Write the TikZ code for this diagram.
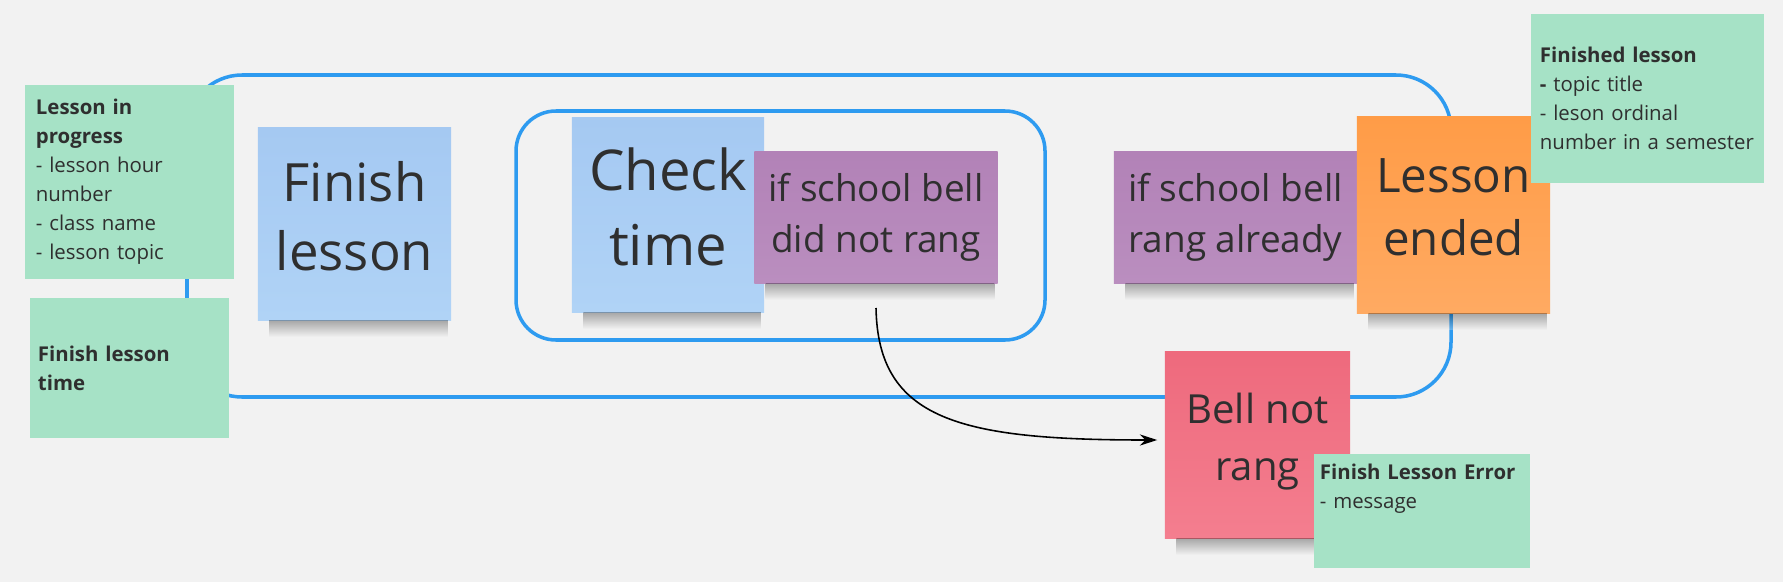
\documentclass[tikz,border=0pt]{standalone}
\usepackage{fontspec}
\setmainfont{Open Sans}
\usetikzlibrary{calc,arrows.meta}
\definecolor{board}{HTML}{F2F2F2}
\definecolor{frame}{HTML}{2E9BF0}
\definecolor{ink}{HTML}{2F2F2F}
\definecolor{card}{HTML}{A6E2C6}
\definecolor{bluetop}{HTML}{A5C9F2}
\definecolor{bluebot}{HTML}{B0D3F6}
\definecolor{purpletop}{HTML}{B282B7}
\definecolor{purplebot}{HTML}{BA8EBF}
\definecolor{orangetop}{HTML}{FF9C47}
\definecolor{orangebot}{HTML}{FFAA62}
\definecolor{pinktop}{HTML}{EE6A7D}
\definecolor{pinkbot}{HTML}{F47E8F}
\tikzset{
  frame/.style={draw=frame, line width=1pt},
  sticky/.style={inner sep=0pt, align=center, text=ink},
  bluesticky/.style={sticky, text depth=0.16cm, top color=bluetop, bottom color=bluebot},
  purplesticky/.style={sticky, top color=purpletop, bottom color=purplebot, font=\fontsize{10.5}{14.5}\selectfont},
  orangesticky/.style={sticky, text depth=0.16cm, top color=orangetop, bottom color=orangebot},
  pinksticky/.style={sticky, text depth=0.16cm, top color=pinktop, bottom color=pinkbot},
  card/.style={fill=card, inner sep=0pt, align=left, text=ink, font=\fontsize{5.8}{8.25}\selectfont},
  shadowband/.style={top color=black, bottom color=board, opacity=0.3},
  flow/.style={draw=black, line width=0.45pt, -{Stealth[length=5pt,width=3.2pt]}},
}

\begin{document}
\begin{tikzpicture}[x=0.01cm, y=-0.01cm]
  \useasboundingbox (0,0) rectangle (1783,582);
  \fill[board] (0,0) rectangle (1783,582);
  \draw[frame, rounded corners=0.55cm] (187,75) rectangle (1451,397);
  \draw[frame, rounded corners=0.4cm] (516,111) rectangle (1045,340);

  \node[bluesticky, minimum width=1.93cm, minimum height=1.92cm, font=\fontsize{15}{19.5}\selectfont] (finish) at (354.5,224) {Finish\\lesson};
  \node[bluesticky, minimum width=1.92cm, minimum height=1.94cm, font=\fontsize{16}{21.3}\selectfont] (check) at (668,215) {Check\\time};
  \node[purplesticky, minimum width=2.43cm, minimum height=1.31cm] (notrang) at (876,217.5) {if school bell\\did not rang};
  \node[purplesticky, minimum width=2.43cm, minimum height=1.31cm] (already) at (1235.5,217.5) {if school bell\\rang already};
  \node[orangesticky, minimum width=1.93cm, minimum height=1.96cm, font=\fontsize{13.5}{17.9}\selectfont] (ended) at (1453.5,215) {Lesson\\ended};
  \node[pinksticky, minimum width=1.85cm, minimum height=1.86cm, font=\fontsize{11.4}{16.2}\selectfont] (bell) at (1257.5,445) {Bell not\\rang};

  \foreach \s in {finish,check,notrang,already,ended,bell}
    \shade[shadowband] ($(\s.south west)+(12,0)$) rectangle ($(\s.south east)+(-4,16)$);

  \coordinate (ringfrom) at (876,308);
  \draw[flow] (ringfrom) .. controls (878,420) and (960,440) .. ($(bell.west)+(-7,-5)$);

  \node[card, minimum width=2.09cm, minimum height=1.94cm, text width=1.87cm] (progress) at (129.5,182) {\textbf{Lesson in}\\\textbf{progress}\\- lesson hour\\number\\- class name\\- lesson topic};
  \node[card, minimum width=1.99cm, minimum height=1.40cm, text width=1.83cm] (endtime) at (129.5,368) {\textbf{Finish lesson}\\\textbf{time}};
  \node[card, minimum width=2.33cm, minimum height=1.69cm, text width=2.15cm] (finished) at (1647.5,98.5) {\textbf{Finished lesson}\\\textbf{-} topic title\\- leson ordinal\\number in a semester};
  \node[card, minimum width=2.16cm, minimum height=1.14cm, text width=2.04cm, text depth=0.78cm] (error) at (1422,511) {\textbf{Finish Lesson Error}\\- message};
\end{tikzpicture}
\end{document}
